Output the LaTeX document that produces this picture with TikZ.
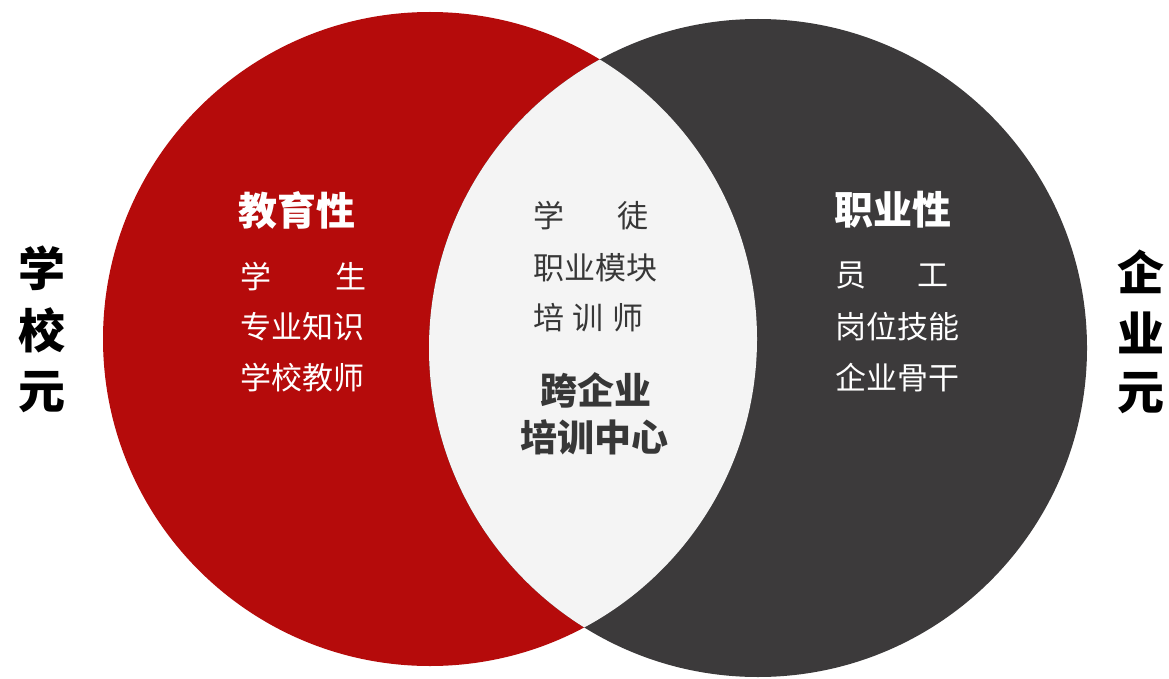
\documentclass[tikz,border=0pt]{standalone}
\usepackage{fontspec}
\newfontfamily\cjk{Noto Sans CJK SC}
\definecolor{redc}{RGB}{181,11,11}
\definecolor{darkc}{RGB}{60,58,59}
\definecolor{lensc}{RGB}{244,244,244}
\definecolor{midtext}{RGB}{55,55,55}
\begin{document}
\begin{tikzpicture}[x=1pt,y=-1pt,
  title/.style={anchor=west,inner sep=0pt,font=\cjk\bfseries\fontsize{39}{39}\selectfont},
  item/.style={anchor=west,inner sep=0pt,font=\cjk\fontsize{31}{31}\selectfont},
  side/.style={anchor=center,inner sep=0pt,text=black,font=\cjk\bfseries\fontsize{47}{47}\selectfont},
  midbold/.style={anchor=center,inner sep=0pt,text=midtext,font=\cjk\bfseries\fontsize{37}{37}\selectfont}]
\useasboundingbox (0,0) rectangle (1169,679);
\fill[white] (0,0) rectangle (1169,679);
\coordinate (rc) at (430,339);
\coordinate (dc) at (758,348);
\fill[redc] (rc) circle[radius=327];
\fill[darkc] (dc) circle[radius=329];
\begin{scope}
  \clip (rc) circle[radius=327];
  \fill[lensc] (dc) circle[radius=329];
\end{scope}
% left circle texts
\node[title,text=white] (edu) at (238,210) {教育性};
\node[item,text=white] (l1) at (240,277) {\hbox to 126pt{学\hfill 生}};
\node[item,text=white] (l2) at (240,327) {专业知识};
\node[item,text=white] (l3) at (240,378) {学校教师};
% middle texts
\node[item,text=midtext] (m1) at (533,216) {\hbox to 115pt{学\hfill 徒}};
\node[item,text=midtext] (m2) at (533,268) {职业模块};
\node[item,text=midtext] (m3) at (533,318) {\hbox to 110pt{培\hfill 训\hfill 师}};
\node[midbold] (m4) at (596,390) {跨企业};
\node[midbold] (m5) at (594,437) {培训中心};
% right circle texts
\node[title,text=white] (job) at (834,210) {职业性};
\node[item,text=white] (r1) at (835,275) {\hbox to 113pt{员\hfill 工}};
\node[item,text=white] (r2) at (835,327) {岗位技能};
\node[item,text=white] (r3) at (835,378) {企业骨干};
% side labels
\node[side] (s1) at (42,268) {学};
\node[side] (s2) at (42,330) {校};
\node[side] (s3) at (42,392) {元};
\node[side] (e1) at (1141,272) {企};
\node[side] (e2) at (1141,333) {业};
\node[side] (e3) at (1141,393) {元};
\end{tikzpicture}
\end{document}
